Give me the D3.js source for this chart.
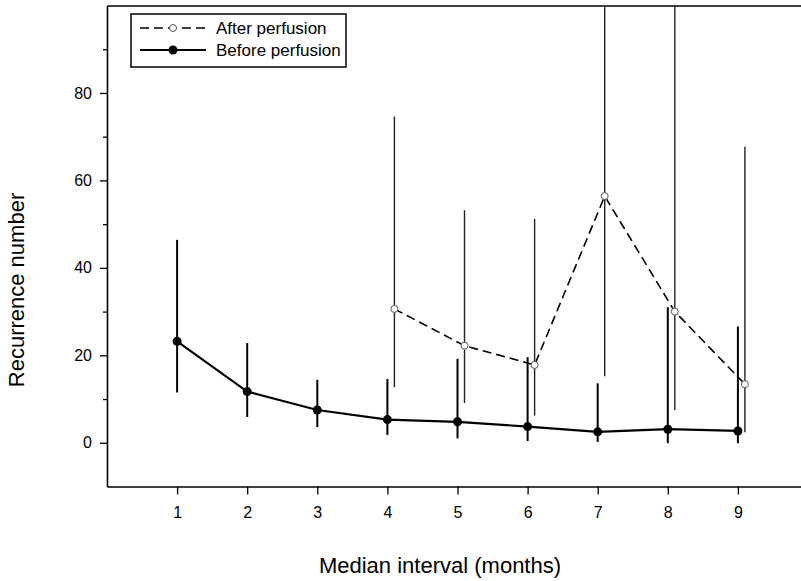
<!DOCTYPE html>
<html><head><meta charset="utf-8">
<script src="https://cdn.jsdelivr.net/npm/d3@7"></script>
<style>body{margin:0;background:#fff} svg{display:block} text{font-family:"Liberation Sans",Arial,Helvetica,sans-serif;fill:#000}</style>
</head><body><svg id="c" width="801" height="581"></svg>
<script>
// ---- data ----
const months = [1, 2, 3, 4, 5, 6, 7, 8, 9];
const beforeMean = [23.2, 11.7, 7.5, 5.3, 4.8, 3.7, 2.5, 3.1, 2.7];
const beforeLow  = [11.5, 5.9, 3.6, 1.8, 1.0, 0.4, 0.2, -0.1, -0.1];
const beforeHigh = [46.4, 22.8, 14.4, 14.6, 19.2, 19.6, 13.6, 31.0, 26.6];
const afterMonths = [4, 5, 6, 7, 8, 9];
const afterMean = [30.6, 22.2, 17.8, 56.4, 30.0, 13.4];
const afterLow  = [12.7, 9.1, 6.2, 15.2, 7.5, 2.4];
const afterHigh = [74.6, 53.2, 51.2, 100, 100, 67.7];
const xTicks = [1, 2, 3, 4, 5, 6, 7, 8, 9];
const yTicks = [0, 20, 40, 60, 80];
const yMinorTicks = [10, 30, 50, 70, 90];
const seriesNames = ["After perfusion", "Before perfusion"];

// ---- chart ----
const svg = d3.select("#c");
const x = d3.scaleLinear().domain([0, 10]).range([107, 808]);
const y = d3.scaleLinear().domain([-10, 100]).range([486.5, 5.5]);
const afterOffset = 0.1;

const before = months.map((m, i) => ({x: m, v: beforeMean[i], lo: beforeLow[i], hi: beforeHigh[i]}));
const after = afterMonths.map((m, i) => ({x: m + afterOffset, v: afterMean[i], lo: afterLow[i], hi: afterHigh[i]}));

// axes
const gx = svg.append("g").attr("transform", `translate(0,${y(-10)})`)
  .call(d3.axisBottom(x).tickValues(xTicks).tickFormat(d3.format("d")).tickSize(8).tickPadding(12).tickSizeOuter(0));
gx.selectAll("text").attr("font-size", 16);
const gy = svg.append("g").attr("transform", `translate(${x(0)},0)`)
  .call(d3.axisLeft(y).tickValues(yTicks).tickFormat(d3.format("d")).tickSize(7).tickPadding(8).tickSizeOuter(0));
gy.selectAll("text").attr("font-size", 16);
svg.append("g").attr("transform", `translate(${x(0)},0)`)
  .call(d3.axisLeft(y).tickValues(yMinorTicks).tickFormat("").tickSize(4).tickSizeOuter(0))
  .select(".domain").remove();
svg.append("g").attr("transform", `translate(0,${y(100)})`)
  .call(d3.axisTop(x).tickValues([]).tickSizeOuter(0));
svg.selectAll(".domain").attr("stroke-width", 1.6);
svg.selectAll(".tick line").attr("stroke-width", 1.3);

// error bars
svg.append("g").selectAll("line").data(after).join("line")
  .attr("x1", d => x(d.x)).attr("x2", d => x(d.x))
  .attr("y1", d => y(d.lo)).attr("y2", d => y(d.hi))
  .attr("stroke", "#222").attr("stroke-width", 1.4);
svg.append("g").selectAll("line").data(before).join("line")
  .attr("x1", d => x(d.x)).attr("x2", d => x(d.x))
  .attr("y1", d => y(d.lo)).attr("y2", d => y(d.hi))
  .attr("stroke", "#000").attr("stroke-width", 2);

// lines
const line = d3.line().x(d => x(d.x)).y(d => y(d.v));
svg.append("path").datum(after).attr("d", line).attr("fill", "none")
  .attr("stroke", "#000").attr("stroke-width", 1.6).attr("stroke-dasharray", "9,5");
svg.append("path").datum(before).attr("d", line).attr("fill", "none")
  .attr("stroke", "#000").attr("stroke-width", 2.2);

// markers
svg.append("g").selectAll("circle").data(after).join("circle")
  .attr("cx", d => x(d.x)).attr("cy", d => y(d.v)).attr("r", 3.5)
  .attr("fill", "#fff").attr("stroke", "#555").attr("stroke-width", 1);
svg.append("g").selectAll("circle").data(before).join("circle")
  .attr("cx", d => x(d.x)).attr("cy", d => y(d.v)).attr("r", 4.5)
  .attr("fill", "#000");

// legend
const lg = svg.append("g");
lg.append("rect").attr("x", 131).attr("y", 14).attr("width", 215).attr("height", 53)
  .attr("fill", "#fff").attr("stroke", "#000").attr("stroke-width", 1.5);
const rows = [{name: seriesNames[0], dash: "9,5", w: 1.4, fill: "#fff", r: 3.5, stroke: "#555"},
              {name: seriesNames[1], dash: null, w: 2, fill: "#000", r: 4.5, stroke: "none"}];
rows.forEach((r, i) => {
  const yy = 28 + i * 22;
  lg.append("line").attr("x1", 140).attr("x2", 206).attr("y1", yy).attr("y2", yy)
    .attr("stroke", "#000").attr("stroke-width", r.w).attr("stroke-dasharray", r.dash);
  lg.append("circle").attr("cx", 173).attr("cy", yy).attr("r", r.r)
    .attr("fill", r.fill).attr("stroke", r.stroke);
  lg.append("text").attr("x", 216).attr("y", yy + 6).attr("font-size", 17).text(r.name);
});

// titles
svg.append("text").attr("x", 440).attr("y", 573).attr("text-anchor", "middle")
  .attr("font-size", 22).text("Median interval (months)");
svg.append("text").attr("transform", "translate(24,290) rotate(-90)").attr("text-anchor", "middle")
  .attr("font-size", 22).text("Recurrence number");
</script></body></html>
